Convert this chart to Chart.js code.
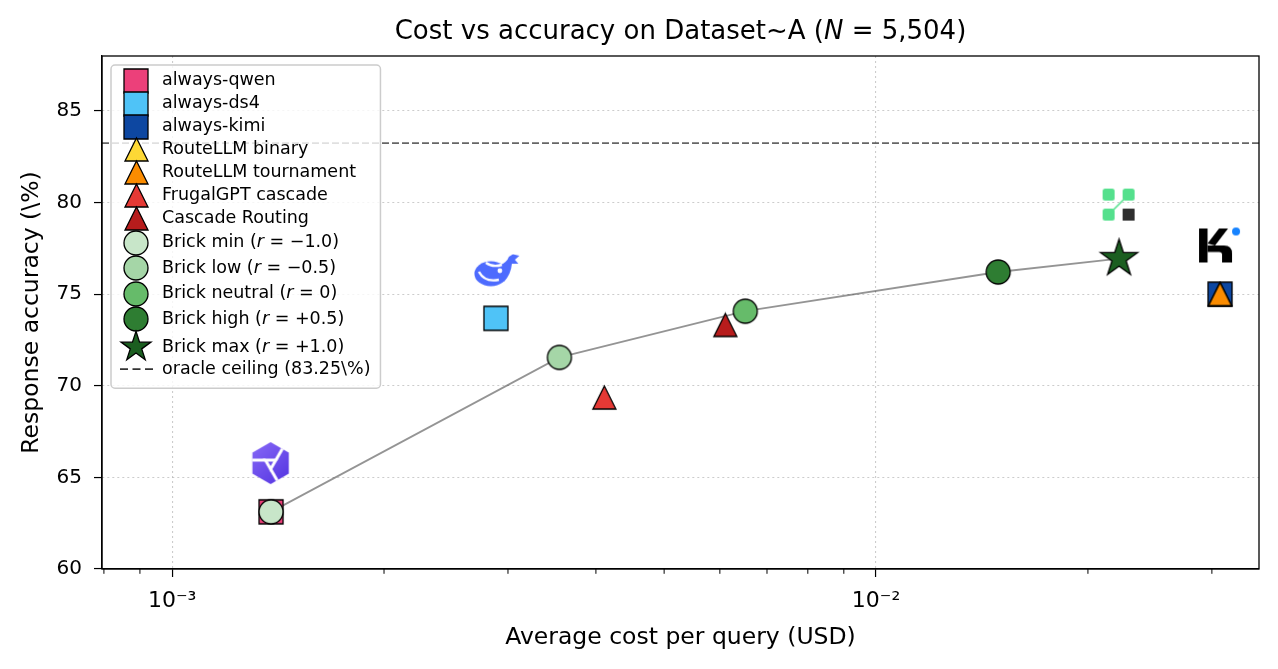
<!DOCTYPE html>
<html>
<head>
<meta charset="utf-8">
<title>Cost vs accuracy</title>
<script src="https://cdn.jsdelivr.net/npm/chart.js@4.4.1/dist/chart.umd.min.js"></script>
<style>
  body { margin: 0; background: #fff; }
  canvas { display: block; }
</style>
</head>
<body>
<canvas id="mainChart" width="1278" height="669"></canvas>
<script>
// ---- data ----
const baselineNames  = ['always-qwen', 'always-ds4', 'always-kimi', 'RouteLLM binary', 'RouteLLM tournament', 'FrugalGPT cascade', 'Cascade Routing'];
const baselineCost   = [0.001382, 0.002884, 0.03081, 0.03081, 0.03081, 0.004112, 0.006108];
const baselineAcc    = [63.12, 73.68, 75.00, 75.00, 75.00, 69.36, 73.32];
const baselineColors = ['#ec407a', '#4fc3f7', '#0d47a1', '#fdd835', '#fb8c00', '#e53935', '#b71c1c'];
const baselineShapes = ['square', 'square', 'square', 'triangle', 'triangle', 'triangle', 'triangle'];

const brickNames  = ['Brick min (*r* = −1.0)', 'Brick low (*r* = −0.5)', 'Brick neutral (*r* = 0)', 'Brick high (*r* = +0.5)', 'Brick max (*r* = +1.0)'];
const brickCost   = [0.001382, 0.003550, 0.00652, 0.01491, 0.02214];
const brickAcc    = [63.12, 71.55, 74.07, 76.21, 76.94];
const brickColors = ['#c8e6c9', '#a5d6a7', '#66bb6a', '#2e7d32', '#1b5e20'];
const brickShapes = ['circle', 'circle', 'circle', 'circle', 'star'];

const oracleAcc  = 83.25;
const oracleName = 'oracle ceiling (83.25\\%)';

const logoNames = ['qwen', 'deepseek', 'brick', 'kimi'];
const logoCost  = [0.00138, 0.002893, 0.02211, 0.03081];
const logoAcc   = [65.78, 76.28, 79.89, 77.66];

const xRange = [0.000795, 0.035];
const yRange = [60, 88];
const xTicks = [0.001, 0.01];
const xTickLabels = ['10⁻³', '10⁻²'];
const xMinorTicks = [0.0008, 0.0009, 0.002, 0.003, 0.004, 0.005, 0.006, 0.007, 0.008, 0.009, 0.02, 0.03];
const yTicks = [60, 65, 70, 75, 80, 85];

const FONT = '"DejaVu Sans", "Liberation Sans", sans-serif';

// ---- marker and logo images ----
function makeMarker(shape, fill, s) {
  const c = document.createElement('canvas');
  const n = Math.ceil(s) + 4;
  c.width = n; c.height = n;
  const g = c.getContext('2d');
  const m = n / 2;
  g.fillStyle = fill;
  g.strokeStyle = '#000';
  g.lineWidth = 1.3;
  g.lineJoin = 'miter';
  g.beginPath();
  if (shape === 'square') {
    g.rect(m - s / 2, m - s / 2, s, s);
  } else if (shape === 'triangle') {
    g.moveTo(m, m - s / 2);
    g.lineTo(m + s / 2, m + s / 2);
    g.lineTo(m - s / 2, m + s / 2);
    g.closePath();
  } else if (shape === 'circle') {
    g.arc(m, m, s / 2, 0, Math.PI * 2);
  } else if (shape === 'star') {
    const R = s / 2, r = R * 0.382;
    for (let k = 0; k < 10; k++) {
      const a = -Math.PI / 2 + k * Math.PI / 5;
      const rr = k % 2 ? r : R;
      const px = m + rr * Math.cos(a), py = m + rr * Math.sin(a);
      if (k) g.lineTo(px, py); else g.moveTo(px, py);
    }
    g.closePath();
  }
  g.fill();
  g.stroke();
  return c;
}
const markerSize = { square: 24, triangle: 23, circle: 24, star: 39 };

function makeQwen() {
  const c = document.createElement('canvas');
  c.width = 42; c.height = 46;
  const g = c.getContext('2d');
  const cx = 21, cy = 23, R = 21;
  const grad = g.createLinearGradient(0, 0, 42, 46);
  grad.addColorStop(0, '#8a6cf8');
  grad.addColorStop(1, '#5030df');
  g.fillStyle = grad;
  g.beginPath();
  for (let k = 0; k < 6; k++) {
    const a = -Math.PI / 2 + k * Math.PI / 3;
    const px = cx + R * Math.cos(a), py = cy + R * Math.sin(a);
    if (k) g.lineTo(px, py); else g.moveTo(px, py);
  }
  g.closePath();
  g.fill();
  g.strokeStyle = '#fff';
  g.lineWidth = 3;
  const r = 6;
  const tri = [0, 1, 2].map(k => {
    const a = Math.PI / 2 + k * 2 * Math.PI / 3;
    return [cx + r * Math.cos(a), cy + r * Math.sin(a)];
  });
  g.beginPath();
  tri.forEach((p, i) => i ? g.lineTo(p[0], p[1]) : g.moveTo(p[0], p[1]));
  g.closePath();
  g.stroke();
  tri.forEach((p, i) => {
    const q = tri[(i + 1) % 3];
    const dx = p[0] - q[0], dy = p[1] - q[1], len = Math.hypot(dx, dy);
    g.beginPath();
    g.moveTo(p[0], p[1]);
    g.lineTo(p[0] + dx / len * 13, p[1] + dy / len * 13);
    g.stroke();
  });
  return c;
}

function makeDeepSeek() {
  const c = document.createElement('canvas');
  c.width = 46; c.height = 34;
  const g = c.getContext('2d');
  g.fillStyle = '#4d6bfe';
  g.beginPath();
  g.ellipse(17, 20, 16.5, 12.5, 0, 0, Math.PI * 2);
  g.fill();
  g.beginPath();
  g.moveTo(25, 12);
  g.quadraticCurveTo(33, 9, 35, 3);
  g.lineTo(39, 0.5);
  g.lineTo(45.5, 2);
  g.lineTo(41, 6);
  g.lineTo(44.5, 10);
  g.lineTo(38, 10);
  g.quadraticCurveTo(37, 21, 30, 28);
  g.closePath();
  g.fill();
  g.fillStyle = '#fff';
  g.beginPath();
  g.arc(26, 17, 2.4, 0, Math.PI * 2);
  g.fill();
  g.strokeStyle = '#fff';
  g.lineWidth = 2.4;
  g.beginPath();
  g.moveTo(5, 18);
  g.quadraticCurveTo(11, 29, 25, 26);
  g.stroke();
  g.beginPath();
  g.moveTo(12, 9);
  g.quadraticCurveTo(19, 14, 28, 11);
  g.stroke();
  return c;
}

function makeBrickLogo() {
  const c = document.createElement('canvas');
  c.width = 34; c.height = 34;
  const g = c.getContext('2d');
  const box = (x, y, col, rad) => {
    g.fillStyle = col;
    g.beginPath();
    g.roundRect(x, y, 12, 12, rad);
    g.fill();
  };
  box(1, 1, '#55e08d', 2.5);
  box(21, 1, '#55e08d', 2.5);
  box(1, 21, '#55e08d', 2.5);
  box(21, 21, '#2f2f2f', 0.5);
  g.strokeStyle = '#55e08d';
  g.lineWidth = 1.6;
  g.beginPath();
  g.moveTo(22, 12);
  g.lineTo(12, 22);
  g.stroke();
  return c;
}

function makeKimi() {
  const c = document.createElement('canvas');
  c.width = 44; c.height = 38;
  const g = c.getContext('2d');
  g.fillStyle = '#000';
  g.fillRect(1, 2, 8.5, 34);
  g.beginPath();
  g.moveTo(9.5, 17);
  g.lineTo(21, 2);
  g.lineTo(30, 2);
  g.lineTo(17, 19);
  g.closePath();
  g.fill();
  g.beginPath();
  g.moveTo(9.5, 19);
  g.lineTo(26, 19);
  g.quadraticCurveTo(34, 19, 34, 27);
  g.lineTo(34, 36);
  g.lineTo(24, 36);
  g.lineTo(24, 28);
  g.quadraticCurveTo(24, 25.5, 21, 25.5);
  g.lineTo(9.5, 25.5);
  g.closePath();
  g.fill();
  g.fillStyle = '#1783ff';
  g.beginPath();
  g.arc(38, 5, 4, 0, Math.PI * 2);
  g.fill();
  return c;
}
const logoMakers = { qwen: makeQwen, deepseek: makeDeepSeek, brick: makeBrickLogo, kimi: makeKimi };

// ---- datasets (listed bottom to top) ----
const layers = [];
layers.push({
  label: oracleName,
  data: xRange.map(x => ({ x: x, y: oracleAcc })),
  showLine: true, borderColor: 'rgba(0,0,0,0.6)', borderWidth: 1.8, borderDash: [7, 3], pointRadius: 0
});
layers.push({
  label: 'brick frontier',
  data: brickCost.map((x, i) => ({ x: x, y: brickAcc[i] })),
  showLine: true, borderColor: 'rgba(0,0,0,0.42)', borderWidth: 1.8, pointRadius: 0
});
layers.push({
  label: 'logos',
  data: logoCost.map((x, i) => ({ x: x, y: logoAcc[i] })),
  pointStyle: logoNames.map(n => logoMakers[n]()), pointRadius: 12
});
const legendItems = [];
baselineNames.forEach((name, i) => {
  const img = makeMarker(baselineShapes[i], baselineColors[i], markerSize[baselineShapes[i]]);
  layers.push({ label: name, data: [{ x: baselineCost[i], y: baselineAcc[i] }], pointStyle: img, pointRadius: 12 });
  legendItems.push({ text: name, img: img, kind: baselineShapes[i] });
});
brickNames.forEach((name, i) => {
  const img = makeMarker(brickShapes[i], brickColors[i], markerSize[brickShapes[i]]);
  layers.push({ label: name, data: [{ x: brickCost[i], y: brickAcc[i] }], pointStyle: img, pointRadius: 12 });
  legendItems.push({
    text: name,
    img: brickShapes[i] === 'star' ? makeMarker('star', brickColors[i], 31.5) : img,
    kind: brickShapes[i]
  });
});
legendItems.push({ text: oracleName, kind: 'line' });
layers.forEach((d, i) => { d.order = layers.length - i; });

// ---- text helper: *...* is italic ----
function drawRich(ctx, str, x, y, size, align) {
  const parts = str.split('*');
  const fonts = parts.map((p, i) => (i % 2 ? 'italic ' : '') + size + 'px ' + FONT);
  const widths = parts.map((p, i) => { ctx.font = fonts[i]; return ctx.measureText(p).width; });
  const total = widths.reduce((a, b) => a + b, 0);
  let cx = align === 'center' ? x - total / 2 : x;
  ctx.textAlign = 'left';
  ctx.textBaseline = 'middle';
  ctx.fillStyle = '#000';
  parts.forEach((p, i) => { ctx.font = fonts[i]; ctx.fillText(p, cx, y); cx += widths[i]; });
  return total;
}
function richWidth(ctx, str, size) {
  return str.split('*').reduce((w, p, i) => {
    ctx.font = (i % 2 ? 'italic ' : '') + size + 'px ' + FONT;
    return w + ctx.measureText(p).width;
  }, 0);
}

// ---- frame, minor ticks, title and legend ----
const decorations = {
  id: 'decorations',
  afterDraw(chart) {
    const ctx = chart.ctx;
    const ca = chart.chartArea;
    const xs = chart.scales.x;
    ctx.save();
    // minor ticks
    ctx.strokeStyle = '#000';
    ctx.lineWidth = 1;
    xMinorTicks.forEach(v => {
      const px = xs.getPixelForValue(v);
      ctx.beginPath();
      ctx.moveTo(px, ca.bottom);
      ctx.lineTo(px, ca.bottom + 4.8);
      ctx.stroke();
    });
    // frame
    ctx.lineWidth = 1.3;
    ctx.strokeRect(ca.left, ca.top, ca.right - ca.left, ca.bottom - ca.top);
    // title
    drawRich(ctx, 'Cost vs accuracy on Dataset~A (*N* = 5,504)', (ca.left + ca.right) / 2, 32, 26, 'center');

    // legend
    const fs = 17.5;
    const rowH = { square: 23, triangle: 23, circle: 25.5, star: 30, line: 14 };
    const bx = ca.left + 9, by = ca.top + 9;
    const maxW = Math.max(...legendItems.map(it => richWidth(ctx, it.text, fs)));
    const ys = [];
    let y = by + 15.7;
    legendItems.forEach((it, i) => {
      if (i) y += (rowH[legendItems[i - 1].kind] + rowH[it.kind]) / 2;
      ys.push(y);
    });
    const bw = 51 + maxW + 10;
    const bh = ys[ys.length - 1] + 19 - by;
    ctx.beginPath();
    ctx.roundRect(bx, by, bw, bh, 4);
    ctx.fillStyle = 'rgba(255,255,255,0.8)';
    ctx.fill();
    ctx.strokeStyle = '#cccccc';
    ctx.lineWidth = 1.5;
    ctx.stroke();
    const mx = bx + 25;
    legendItems.forEach((it, i) => {
      if (it.kind === 'line') {
        ctx.save();
        ctx.strokeStyle = 'rgba(0,0,0,0.8)';
        ctx.lineWidth = 1.8;
        ctx.setLineDash([8, 4.5]);
        ctx.beginPath();
        ctx.moveTo(bx + 9, ys[i]);
        ctx.lineTo(bx + 43, ys[i]);
        ctx.stroke();
        ctx.restore();
      } else {
        ctx.drawImage(it.img, Math.round(mx - it.img.width / 2), Math.round(ys[i] - it.img.height / 2));
      }
      drawRich(ctx, it.text, bx + 51, ys[i], fs, 'left');
    });
    ctx.restore();
  }
};

const gridColor = 'rgba(176,176,176,0.65)';
const labelFont = { family: FONT, size: 23.5 };

new Chart(document.getElementById('mainChart').getContext('2d'), {
  type: 'scatter',
  data: { datasets: layers },
  plugins: [decorations],
  options: {
    responsive: false,
    animation: false,
    events: [],
    layout: { padding: { top: 56, right: 19, left: 0, bottom: 0 } },
    plugins: { legend: { display: false }, tooltip: { enabled: false }, title: { display: false } },
    scales: {
      x: {
        type: 'logarithmic',
        min: xRange[0],
        max: xRange[1],
        afterBuildTicks: s => { s.ticks = xTicks.map(v => ({ value: v })); },
        afterFit: s => { s.height = 100; },
        ticks: {
          callback: v => xTickLabels[xTicks.indexOf(v)],
          font: { family: FONT, size: 22 }, color: '#000', padding: 11, maxRotation: 0, autoSkip: false
        },
        grid: { color: gridColor, lineWidth: 1.1, tickColor: '#000', tickLength: 8, tickWidth: 1.2 },
        border: { display: true, color: '#000', width: 1.3, dash: [2, 3] },
        title: { display: true, text: 'Average cost per query (USD)', font: labelFont, color: '#000', padding: { top: 0, bottom: 17 } }
      },
      y: {
        min: yRange[0],
        max: yRange[1],
        afterBuildTicks: s => { s.ticks = yTicks.map(v => ({ value: v })); },
        afterFit: s => { s.width = 102; },
        ticks: { font: { family: FONT, size: 20 }, color: '#000', padding: 12 },
        grid: { color: gridColor, lineWidth: 1.1, tickColor: '#000', tickLength: 8, tickWidth: 1.2 },
        border: { display: true, color: '#000', width: 1.3, dash: [2, 3] },
        title: { display: true, text: 'Response accuracy (\\%)', font: labelFont, color: '#000', padding: { top: 18, bottom: 0 } }
      }
    }
  }
});
</script>
</body>
</html>
